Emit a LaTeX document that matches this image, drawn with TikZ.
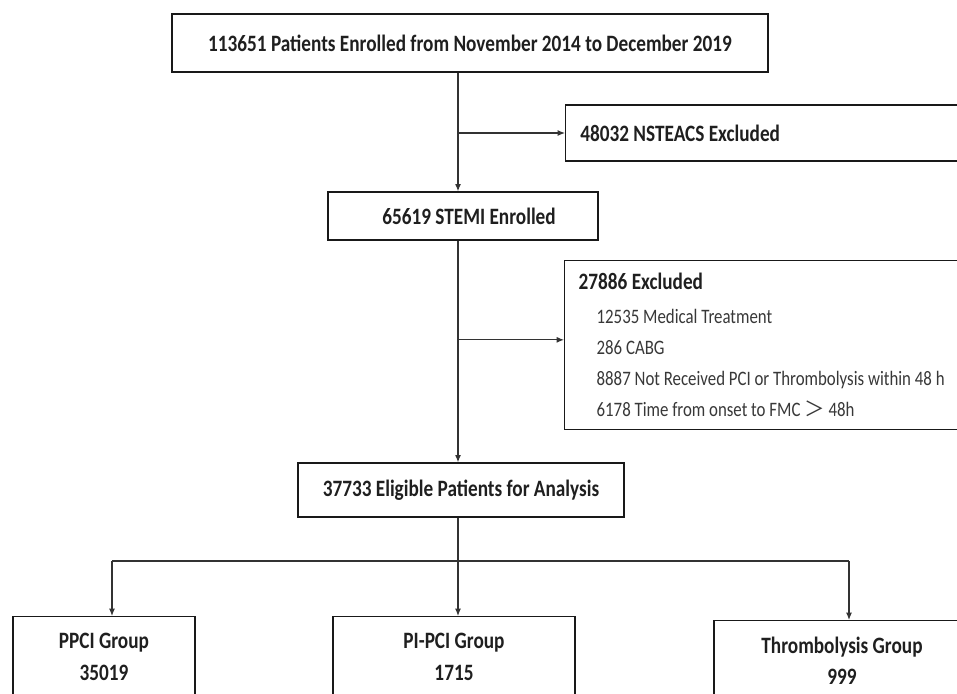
\documentclass[tikz,border=0pt]{standalone}
\usepackage{fontspec}
\setmainfont{Carlito}[FakeStretch=0.82]
\newfontfamily\cjk{Noto Sans CJK SC}
\usetikzlibrary{arrows.meta}
\newcommand\punkt[1]{\hspace*{13.5pt}{\mdseries\fontsize{15.4}{18}\selectfont\color{black!78}#1}}
\begin{document}
\begin{tikzpicture}[x=0.75pt,y=-0.75pt,
		box/.style={draw=black!90,line width=1pt,rectangle,inner sep=0pt,font=\fontsize{17.6}{21.6}\selectfont\bfseries,text=black!88},
		linie/.style={line width=0.9pt,draw=black!80},
		pfeil/.style={linie,-{Latex[length=5.5pt,width=4.5pt]}}]
	\useasboundingbox (0,0) rectangle (957,693);
	% Boxen oben
	\node[box,minimum width=447pt,minimum height=43.5pt] (top) at (470,43) {113651 Patients Enrolled from November 2014 to December 2019};
	\node[box,anchor=west,inner xsep=11pt,text width=308pt,align=flush left,minimum height=42pt] (nste) at (565,133) {48032 NSTEACS Excluded};
	\node[box,minimum width=202.5pt,minimum height=36pt] (stemi) at (463,216) {\hspace*{9pt}65619 STEMI Enrolled};
	\node[box,anchor=north west,inner xsep=10.5pt,text width=310pt,align=flush left,minimum height=126.75pt] (excl) at (564,260) {27886 Excluded\\[3.9pt]
		\punkt{12535 Medical Treatment}\\[1.6pt]
		\punkt{286 CABG}\\[1.6pt]
		\punkt{8887 Not Received PCI or Thrombolysis within 48 h}\\[1.6pt]
		\punkt{6178 Time from onset to FMC {\cjk ＞} 48h}};
	\node[box,minimum width=244.5pt,minimum height=40.5pt] (elig) at (461,490) {37733 Eligible Patients for Analysis};
	% Gruppen unten
	\node[box,anchor=north,align=center,inner ysep=12pt,minimum width=136.5pt] (ppci) at (104,616) {PPCI Group\\[2.4pt]35019\rule[-30pt]{0pt}{0pt}};
	\node[box,anchor=north,align=center,inner ysep=12pt,minimum width=181.5pt] (pipci) at (454,616) {PI-PCI Group\\[2.4pt]1715\rule[-30pt]{0pt}{0pt}};
	\node[box,anchor=north,align=center,inner ysep=12.5pt,minimum width=192pt] (thromb) at (842,620) {Thrombolysis Group\\[1.6pt]999\rule[-30pt]{0pt}{0pt}};
	% Pfeile
	\coordinate (S) at (458,0);
	\coordinate (L) at (112,561);
	\coordinate (R) at (849,561);
	\draw[pfeil] (top.south -| S) to (stemi.north -| S);
	\draw[pfeil] (S |- nste.west) to (nste.west);
	\draw[pfeil] (stemi.south -| S) to (elig.north -| S);
	\draw[pfeil] ([yshift=4pt]S |- excl.west) to ([yshift=4pt]excl.west);
	\draw[linie] (elig.south -| S) to (S |- L);
	\draw[linie] (L) to (R);
	\draw[pfeil] (L) to (ppci.north -| L);
	\draw[pfeil] (S |- L) to (pipci.north -| S);
	\draw[pfeil] (R) to (thromb.north -| R);
\end{tikzpicture}
\end{document}
